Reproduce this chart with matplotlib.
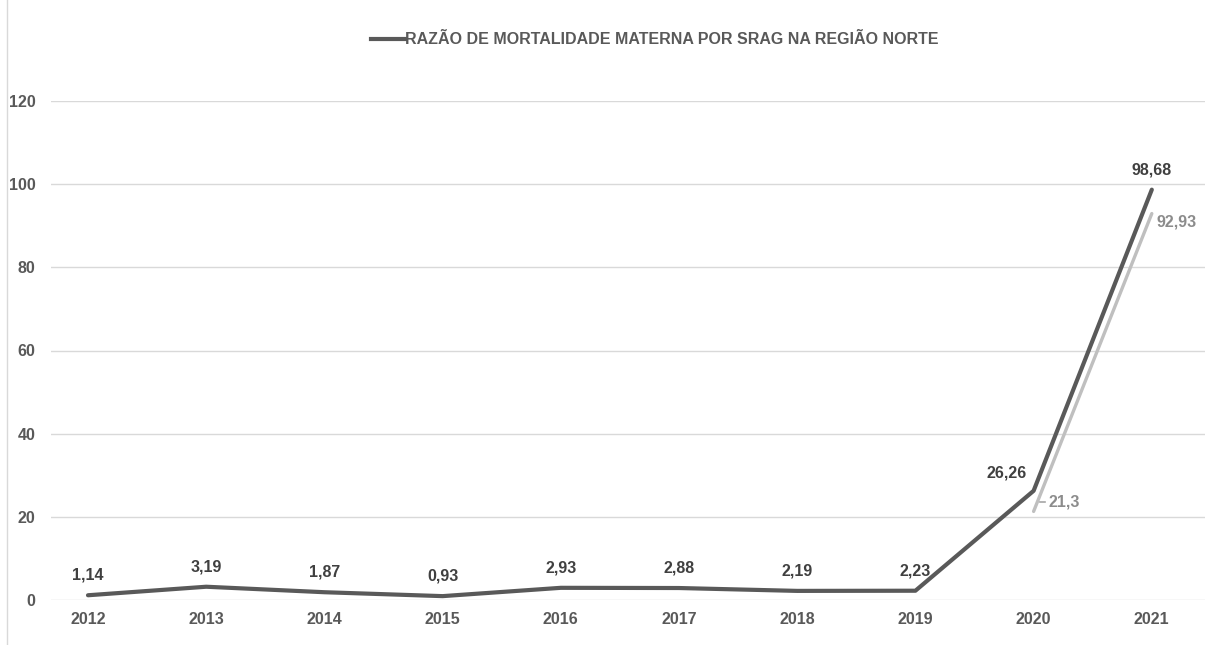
import numpy as np
import matplotlib.pyplot as plt
from matplotlib.lines import Line2D

plt.rcParams['font.family'] = ['Liberation Sans', 'DejaVu Sans']

anos = ['2012', '2013', '2014', '2015', '2016', '2017', '2018', '2019', '2020', '2021']
razao = [1.14, 3.19, 1.87, 0.93, 2.93, 2.88, 2.19, 2.23, 26.26, 98.68]
anos_2 = ['2020', '2021']
razao_2 = [21.3, 92.93]
rotulo = 'RAZÃO DE MORTALIDADE MATERNA POR SRAG NA REGIÃO NORTE'

def fmt(v):
    s = ('%.2f' % v).rstrip('0').rstrip('.')
    return s.replace('.', ',')

fig = plt.figure(figsize=(12.12, 6.45), dpi=100)
ax = fig.add_axes([51 / 1212, 45 / 645, 1154 / 1212, 499 / 645])

x = np.arange(len(anos))
x2 = [anos.index(a) for a in anos_2]

ax.plot(x, razao, color='#595959', lw=3.0, solid_capstyle='round', zorder=3, clip_on=False)
ax.plot(x2, razao_2, color='#bfbfbf', lw=2.4, solid_capstyle='round', zorder=2, clip_on=False)

# rótulos da série principal (deslocamentos em pixels)
for i, v in enumerate(razao):
    dx, dy = (-27, 18) if anos[i] == '2020' else (0, 20)
    ax.annotate(fmt(v), (i, v), xytext=(dx, dy), textcoords='offset pixels',
                ha='center', va='center', fontsize=11.5, fontweight='bold', color='#404040')

# rótulos da segunda série, o primeiro com um pequeno traço guia
ax.annotate(fmt(razao_2[0]), (x2[0], razao_2[0]), xytext=(15, 9), textcoords='offset pixels',
            ha='left', va='center', fontsize=11.5, fontweight='bold', color='#8c8c8c')
ax.plot([x2[0] + 6 / 118.2, x2[0] + 11 / 118.2], [razao_2[0] + 9 / 4.158] * 2,
        color='#a6a6a6', lw=1.2)
ax.annotate(fmt(razao_2[1]), (x2[1], razao_2[1]), xytext=(5, -8), textcoords='offset pixels',
            ha='left', va='center', fontsize=11.5, fontweight='bold', color='#8c8c8c')

ax.set_xlim(-0.313, 9.45)
ax.set_ylim(0, 120)
ax.set_yticks(np.arange(0, 121, 20))
ax.set_xticks(x)
ax.set_xticklabels(anos)
ax.grid(axis='y', color='#d9d9d9', lw=1)
ax.set_axisbelow(True)
for s in ax.spines.values():
    s.set_visible(False)
ax.tick_params(length=0, labelsize=11.5, labelcolor='#595959', pad=9)
ax.tick_params(axis='y', pad=11)
for t in ax.get_xticklabels() + ax.get_yticklabels():
    t.set_fontweight('bold')

leg = fig.legend(handles=[Line2D([], [], color='#595959', lw=3.0)], labels=[rotulo],
                 loc='center', bbox_to_anchor=(655 / 1212, 1 - 40 / 645), frameon=False,
                 handlelength=2.1, handletextpad=0.0, prop={'size': 11.5, 'weight': 'bold'})
for t in leg.get_texts():
    t.set_color('#595959')

# borda esquerda do quadro
fig.add_artist(Line2D([7 / 1212, 7 / 1212], [0, 1], color='#d9d9d9', lw=1))

fig.savefig('out.png', dpi=100, facecolor='white')
